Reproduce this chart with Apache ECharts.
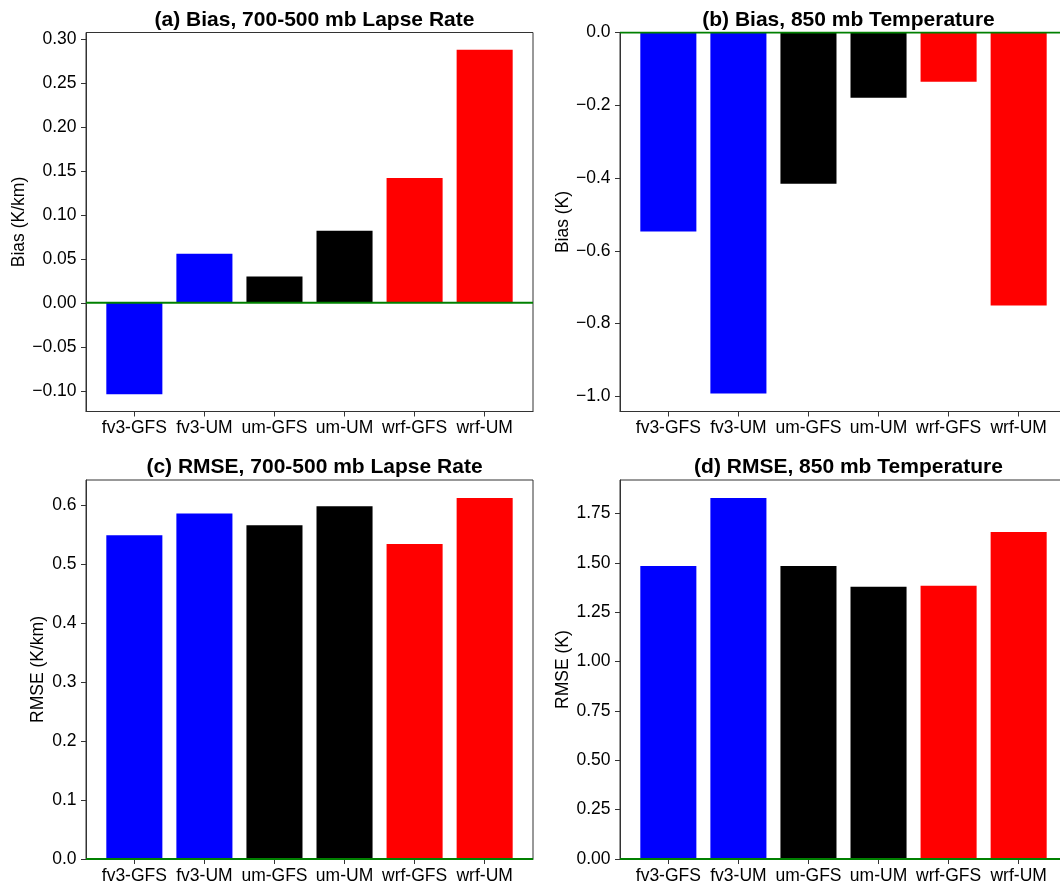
<!DOCTYPE html>
<html>
<head>
<meta charset="utf-8">
<title>Bias and RMSE by model configuration</title>
<script src="https://cdn.jsdelivr.net/npm/echarts@6/dist/echarts.min.js"></script>
<style>
  html, body { margin: 0; padding: 0; background: #ffffff; overflow: hidden; width: 1060px; height: 885px; }
  /* the canvas runs a little past the right edge so the right-hand panels overhang it */
  #chart { width: 1075px; height: 885px; }
</style>
</head>
<body>
<div id="chart"></div>
<script>
// Model configurations along the x axis and the colour used for each bar
const categories = ['fv3-GFS', 'fv3-UM', 'um-GFS', 'um-UM', 'wrf-GFS', 'wrf-UM'];
const barColors = ['#0000ff', '#0000ff', '#000000', '#000000', '#ff0000', '#ff0000'];

// Verification statistics per configuration
const lapseBias = [-0.104, 0.056, 0.030, 0.082, 0.142, 0.288];   // K/km
const tempBias = [-0.547, -0.992, -0.4155, -0.1795, -0.1355, -0.750]; // K
const lapseRmse = [0.549, 0.586, 0.566, 0.598, 0.534, 0.612];    // K/km
const tempRmse = [1.485, 1.829, 1.485, 1.379, 1.384, 1.657];     // K

// Tick values for each panel's y axis
const ticksA = [-0.10, -0.05, 0.00, 0.05, 0.10, 0.15, 0.20, 0.25, 0.30];
const ticksB = [-1.0, -0.8, -0.6, -0.4, -0.2, 0.0];
const ticksC = [0.0, 0.1, 0.2, 0.3, 0.4, 0.5, 0.6];
const ticksD = [0.00, 0.25, 0.50, 0.75, 1.00, 1.25, 1.50, 1.75];

const titles = [
  '(a) Bias, 700-500 mb Lapse Rate',
  '(b) Bias, 850 mb Temperature',
  '(c) RMSE, 700-500 mb Lapse Rate',
  '(d) RMSE, 850 mb Temperature'
];
const yNames = ['Bias (K/km)', 'Bias (K)', 'RMSE (K/km)', 'RMSE (K)'];

const FONT = '"Liberation Sans", Arial, Helvetica, sans-serif';
const BAR_W = 0.8;

// Bar extents: 5% padding on the data range, bars stick to zero
function yLimits(vals) {
  let lo = Math.min(0, ...vals), hi = Math.max(0, ...vals);
  const pad = 0.05 * (hi - lo);
  return [lo < 0 ? lo - pad : 0, hi > 0 ? hi + pad : 0];
}
const xPad = 0.05 * ((categories.length - 1) + BAR_W);
const xMin = -BAR_W / 2 - xPad;
const xMax = categories.length - 1 + BAR_W / 2 + xPad;

const fmtTick = (dec) => (v) => {
  const s = Math.abs(v).toFixed(dec);
  return (v < -1e-9 ? '\u2212' : '') + s;
};

const panels = [
  { vals: lapseBias, ticks: ticksA, dec: 2, left: 86, top: 32.5, gap: 57 },
  { vals: tempBias, ticks: ticksB, dec: 1, left: 620, top: 32.5, gap: 47 },
  { vals: lapseRmse, ticks: ticksC, dec: 1, left: 86, top: 480, gap: 39 },
  { vals: tempRmse, ticks: ticksD, dec: 2, left: 620, top: 480, gap: 47 }
];
const PW = 447, PH = 379;

const option = {
  backgroundColor: '#ffffff',
  animation: false,
  title: [], grid: [], xAxis: [], yAxis: [], series: []
};

panels.forEach((p, i) => {
  const lim = yLimits(p.vals);
  option.title.push({
    text: titles[i],
    left: p.left + PW / 2,
    top: p.top - 28,
    textAlign: 'center',
    textStyle: { fontFamily: FONT, fontWeight: 'bold', fontSize: 21, color: '#000' }
  });
  option.grid.push({
    left: p.left, top: p.top, width: PW, height: PH,
    show: true, borderColor: '#333', borderWidth: 1, backgroundColor: 'transparent'
  });
  option.xAxis.push({
    type: 'value', gridIndex: i, min: xMin, max: xMax,
    splitLine: { show: false },
    axisLine: { show: true, onZero: false, lineStyle: { color: '#333', width: 1 } },
    axisTick: { show: true, length: 5, customValues: categories.map((c, k) => k), lineStyle: { color: '#333' } },
    axisLabel: {
      customValues: categories.map((c, k) => k),
      formatter: (v) => categories[Math.round(v)],
      fontFamily: FONT, fontSize: 17.5, color: '#000', margin: 8
    }
  });
  option.yAxis.push({
    type: 'value', gridIndex: i, min: lim[0], max: lim[1],
    name: yNames[i], nameLocation: 'middle', nameRotate: 90, nameGap: p.gap,
    nameTextStyle: { fontFamily: FONT, fontSize: 17.5, color: '#000' },
    splitLine: { show: false },
    axisLine: { show: true, onZero: false, lineStyle: { color: '#333', width: 1 } },
    axisTick: { show: true, length: 5, customValues: p.ticks, lineStyle: { color: '#333' } },
    axisLabel: {
      customValues: p.ticks, formatter: fmtTick(p.dec),
      fontFamily: FONT, fontSize: 17.5, color: '#000', margin: 9.5
    }
  });
  // bars, each spanning BAR_W category units in data space
  option.series.push({
    type: 'custom', xAxisIndex: i, yAxisIndex: i,
    data: p.vals.map((v, k) => [k, v]),
    renderItem: (params, api) => {
      const k = api.value(0), v = api.value(1);
      const a = api.coord([k - BAR_W / 2, v]);
      const b = api.coord([k + BAR_W / 2, 0]);
      return {
        type: 'rect',
        shape: { x: a[0], y: Math.min(a[1], b[1]), width: b[0] - a[0], height: Math.abs(b[1] - a[1]) },
        style: { fill: barColors[k] }
      };
    },
    clip: true
  });
  // zero reference line
  option.series.push({
    type: 'line', xAxisIndex: i, yAxisIndex: i,
    data: [[xMin, 0], [xMax, 0]],
    symbol: 'none', silent: true,
    lineStyle: { color: '#008000', width: 2 },
    z: 5
  });
});

const chart = echarts.init(document.getElementById('chart'), null, { renderer: 'canvas' });
chart.setOption(option);
</script>
</body>
</html>
